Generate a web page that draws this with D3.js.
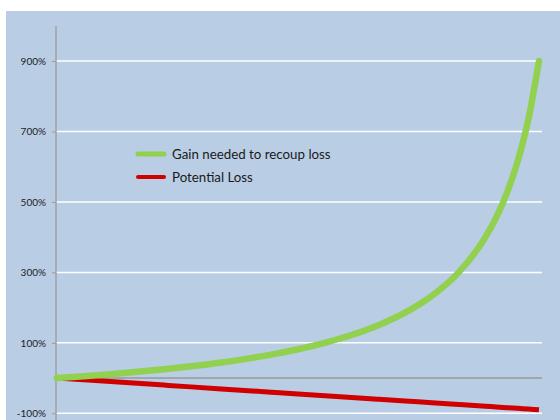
<!DOCTYPE html>
<html><head><meta charset="utf-8">
<script src="https://cdn.jsdelivr.net/npm/d3@7/dist/d3.min.js"></script>
<style>body{margin:0;background:#fff}svg{display:block}</style>
</head><body>
<script>
const losses = [0,5,10,15,20,25,30,35,40,45,50,55,60,65,70,75,80,82,84,86,88,90];
const gainNeeded = [0,5.26,11.11,17.65,25,33.33,42.86,53.85,66.67,81.82,100,122.22,150,185.71,233.33,300,400,455.56,525,614.29,733.33,900];
const potentialLoss = [0,-5,-10,-15,-20,-25,-30,-35,-40,-45,-50,-55,-60,-65,-70,-75,-80,-82,-84,-86,-88,-90];
const yTicks = [900,700,500,300,100,-100];
const seriesNames = ["Gain needed to recoup loss","Potential Loss"];
const seriesColors = ["#92d050","#d00000"];

const W=560,H=420;
const svg=d3.select("body").append("svg").attr("width",W).attr("height",H);
svg.append("rect").attr("x",6).attr("y",11).attr("width",W-6).attr("height",H-11).attr("fill","#b9cde5");

const x=d3.scaleLinear().domain([0,90]).range([57,539]);
const y=d3.scaleLinear().domain([-100,900]).range([413.3,61]);
const font="Lato, 'Open Sans', sans-serif";

// gridlines
svg.append("g").selectAll("line").data(yTicks).join("line")
  .attr("x1",56).attr("x2",542).attr("y1",d=>y(d)).attr("y2",d=>y(d))
  .attr("stroke","#ffffff").attr("stroke-width",1.5);
// zero line
svg.append("line").attr("x1",56).attr("x2",542).attr("y1",y(0)).attr("y2",y(0))
  .attr("stroke","#999999").attr("stroke-width",1.5);

// y axis
const yAxis=d3.axisLeft(y).tickValues(yTicks).tickSize(4).tickPadding(6).tickFormat(d=>d+"%");
const ga=svg.append("g").attr("transform","translate(56,0)").call(yAxis);
ga.select(".domain").remove();
ga.selectAll(".tick line").attr("stroke","#999").attr("stroke-width",1);
ga.selectAll(".tick text").attr("font-family",font).attr("font-size",10).attr("fill","#222");
svg.append("line").attr("x1",56).attr("x2",56).attr("y1",26).attr("y2",H)
  .attr("stroke","#a0a0a0").attr("stroke-width",1.5);

const line=d3.line().x((d,i)=>x(losses[i])).y(d=>y(d)).curve(d3.curveMonotoneX);
svg.append("path").datum(potentialLoss).attr("d",line).attr("fill","none")
  .attr("stroke",seriesColors[1]).attr("stroke-width",5);
svg.append("path").datum(gainNeeded).attr("d",line).attr("fill","none")
  .attr("stroke",seriesColors[0]).attr("stroke-width",6.5).attr("stroke-linecap","round");

// legend
const lg=svg.append("g");
seriesNames.forEach((n,i)=>{
  const yy=154+i*23;
  lg.append("line").attr("x1",138).attr("x2",164).attr("y1",yy).attr("y2",yy)
    .attr("stroke",seriesColors[i]).attr("stroke-width",i==0?5:4).attr("stroke-linecap","round");
  lg.append("text").attr("x",172).attr("y",yy).attr("dy","0.35em")
    .attr("font-family",font).attr("font-size",13.3).attr("fill","#1a1a1a").text(n);
});
</script>
</body></html>
